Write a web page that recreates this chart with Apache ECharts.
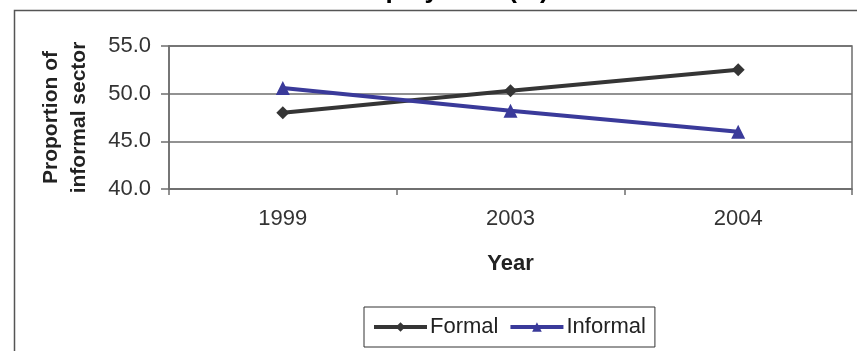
<!DOCTYPE html>
<html>
<head>
<meta charset="utf-8">
<script src="https://cdn.jsdelivr.net/npm/echarts@6/dist/echarts.min.js"></script>
<style>
  html, body { margin: 0; padding: 0; background: #ffffff; }
  #chart { width: 857px; height: 351px; }
</style>
</head>
<body>
<div id="chart"></div>
<script>
// Survey years on the category axis
var years = ['1999', '2003', '2004'];
// Share of employment (%) by sector
var formal = [48.0, 50.3, 52.5];
var informal = [50.6, 48.2, 46.0];
// Value axis range and step
var yMin = 40, yMax = 55, yStep = 5;

var FONT = 'Liberation Sans, Arial, sans-serif';
var AXIS_GREY = '#6e6e6e';

var chart = echarts.init(document.getElementById('chart'), null, { renderer: 'canvas' });

chart.setOption({
  backgroundColor: '#ffffff',
  animation: false,
  title: {
    text: 'Employment (%)',
    left: 340,
    top: -27,
    textStyle: { fontFamily: FONT, fontSize: 26, fontWeight: 'bold', color: '#000' }
  },
  graphic: [{
    // outer chart-area frame
    type: 'rect',
    left: 12, top: 8,
    shape: { width: 900, height: 400 },
    style: { fill: 'none', stroke: '#555', lineWidth: 1.5 },
    silent: true
  }],
  grid: {
    left: 169, right: 5, top: 46, bottom: 162,
    show: true,
    borderColor: AXIS_GREY,
    borderWidth: 1.5,
    backgroundColor: 'transparent'
  },
  legend: {
    left: 364, top: 307,
    padding: [9, 9, 9, 8],
    itemWidth: 53, itemHeight: 12, itemGap: 10,
    borderColor: '#333', borderWidth: 1,
    lineStyle: { width: 4 },
    textStyle: { fontFamily: FONT, fontSize: 22, color: '#222', padding: [0, 0, 0, -2] },
    data: ['Formal', 'Informal']
  },
  xAxis: {
    type: 'category',
    data: years,
    boundaryGap: true,
    name: 'Year',
    nameLocation: 'middle',
    nameGap: 64,
    nameTextStyle: { fontFamily: FONT, fontSize: 22, fontWeight: 'bold', color: '#222' },
    axisLine: { lineStyle: { color: AXIS_GREY, width: 1.5 } },
    axisTick: { show: true, length: 6, lineStyle: { color: AXIS_GREY, width: 1.5 } },
    axisLabel: { fontFamily: FONT, fontSize: 22, color: '#333', margin: 19 },
    splitLine: { show: false }
  },
  yAxis: {
    type: 'value',
    min: yMin, max: yMax, interval: yStep,
    name: 'Proportion of\ninformal sector',
    nameLocation: 'middle',
    nameRotate: 90,
    nameGap: 76,
    nameTextStyle: { fontFamily: FONT, fontSize: 21, fontWeight: 'bold', color: '#222', lineHeight: 28 },
    axisLine: { show: true, lineStyle: { color: AXIS_GREY, width: 1.5 } },
    axisTick: { show: true, length: 8, lineStyle: { color: AXIS_GREY, width: 1.5 } },
    axisLabel: {
      fontFamily: FONT, fontSize: 22, color: '#333', margin: 18,
      formatter: function (v) { return v.toFixed(1); }
    },
    splitLine: { show: true, lineStyle: { color: AXIS_GREY, width: 1.5 } }
  },
  series: [{
    name: 'Formal',
    type: 'line',
    data: formal,
    symbol: 'diamond',
    symbolSize: 13,
    color: '#353535',
    lineStyle: { color: '#353535', width: 4 },
    itemStyle: { color: '#353535' }
  }, {
    name: 'Informal',
    type: 'line',
    data: informal,
    symbol: 'triangle',
    symbolSize: 14,
    color: '#3a3a9a',
    lineStyle: { color: '#3a3a9a', width: 4 },
    itemStyle: { color: '#3a3a9a' }
  }]
});
</script>
</body>
</html>
